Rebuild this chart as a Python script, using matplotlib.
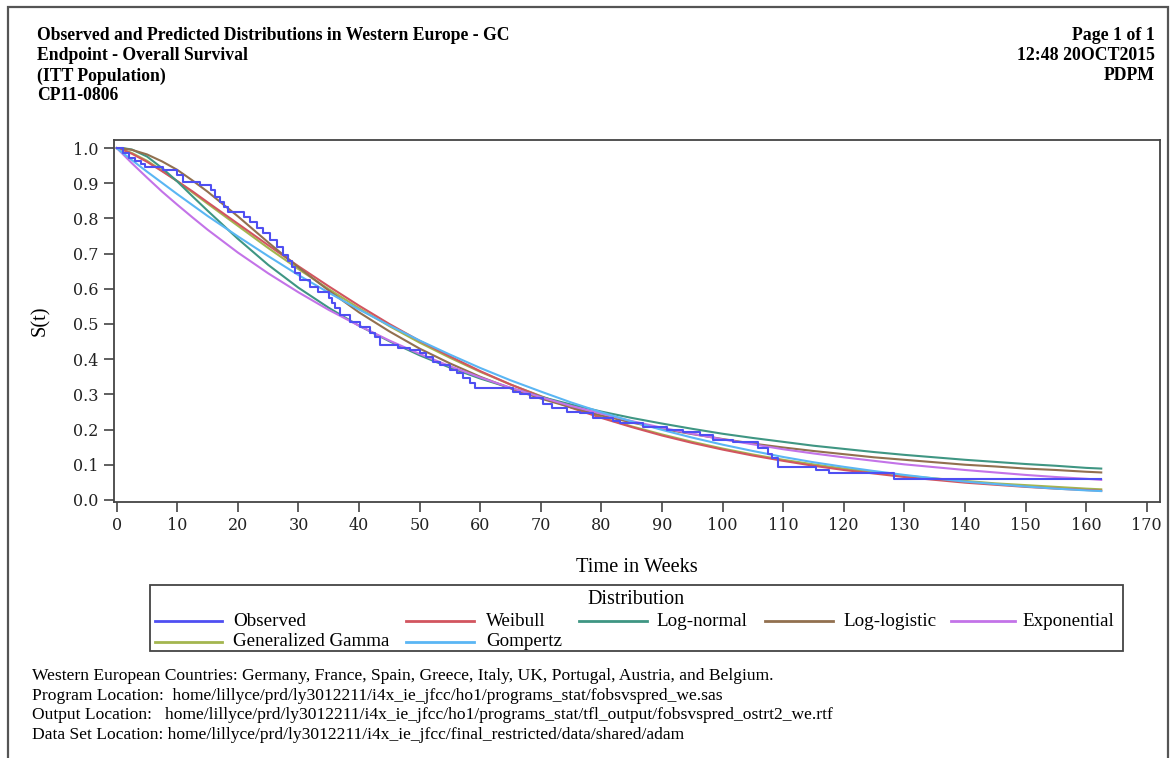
import matplotlib
matplotlib.use("Agg")
import matplotlib.pyplot as plt
from matplotlib.lines import Line2D
from matplotlib.patches import Rectangle

# ---------------- data ----------------
t_grid = [0, 1, 2.5, 5, 7.5, 10, 12.5, 15, 20, 25, 30, 35, 40, 45, 50, 55, 60, 65, 70, 75,
          80, 85, 90, 95, 100, 105, 110, 115, 120, 125, 130, 135, 140, 145, 150, 155, 160, 162.5]

weibull = [1.0, 0.995, 0.984, 0.961, 0.934, 0.906, 0.877, 0.846, 0.785, 0.724, 0.664, 0.607,
           0.552, 0.500, 0.452, 0.408, 0.366, 0.328, 0.294, 0.262, 0.233, 0.207, 0.183, 0.162,
           0.143, 0.126, 0.111, 0.097, 0.085, 0.075, 0.065, 0.057, 0.049, 0.043, 0.037, 0.032,
           0.028, 0.026]
lognormal = [1.0, 1.0, 0.996, 0.976, 0.943, 0.905, 0.863, 0.822, 0.742, 0.668, 0.603, 0.546,
             0.495, 0.451, 0.411, 0.376, 0.345, 0.318, 0.293, 0.271, 0.251, 0.233, 0.217, 0.202,
             0.188, 0.176, 0.165, 0.154, 0.145, 0.136, 0.128, 0.121, 0.114, 0.108, 0.102, 0.097,
             0.091, 0.089]
loglogistic = [1.0, 0.999, 0.995, 0.982, 0.962, 0.938, 0.908, 0.876, 0.806, 0.732, 0.661,
               0.595, 0.533, 0.479, 0.430, 0.388, 0.350, 0.317, 0.288, 0.263, 0.240, 0.220,
               0.202, 0.187, 0.173, 0.160, 0.149, 0.139, 0.130, 0.121, 0.114, 0.107, 0.100,
               0.095, 0.089, 0.085, 0.080, 0.078]
exponential = [1.0, 0.983, 0.957, 0.916, 0.876, 0.839, 0.803, 0.768, 0.703, 0.644, 0.590,
               0.540, 0.495, 0.453, 0.415, 0.380, 0.348, 0.319, 0.292, 0.267, 0.245, 0.224,
               0.205, 0.188, 0.172, 0.158, 0.144, 0.132, 0.121, 0.111, 0.101, 0.093, 0.085,
               0.078, 0.071, 0.065, 0.060, 0.057]
gengamma = [1.0, 0.996, 0.986, 0.964, 0.936, 0.906, 0.874, 0.842, 0.779, 0.716, 0.656, 0.599,
            0.545, 0.494, 0.447, 0.404, 0.364, 0.328, 0.295, 0.264, 0.235, 0.209, 0.186, 0.165,
            0.146, 0.129, 0.114, 0.101, 0.089, 0.079, 0.069, 0.061, 0.054, 0.047, 0.042, 0.037,
            0.032, 0.030]
gompertz = [1.0, 0.986, 0.966, 0.933, 0.901, 0.869, 0.838, 0.807, 0.749, 0.693, 0.639, 0.589,
            0.541, 0.496, 0.453, 0.413, 0.375, 0.340, 0.308, 0.277, 0.249, 0.223, 0.199, 0.177,
            0.157, 0.139, 0.122, 0.107, 0.094, 0.082, 0.071, 0.061, 0.052, 0.045, 0.038, 0.032,
            0.027, 0.025]

obs_t = [0, 1.0, 2.0, 3.0, 4.0, 4.7, 7.7, 10.0, 11.0, 13.7, 15.5, 16.3, 17.0, 17.7, 18.3,
         21.0, 22.0, 23.1, 24.2, 25.3, 26.4, 27.5, 28.3, 28.9, 29.4, 30.2, 31.9, 33.2,
         35.0, 35.5, 36.0, 36.8, 38.5, 40.1, 41.8, 42.6, 43.4, 46.5, 48.4, 50.0, 51.1,
         52.2, 53.3, 55.0, 56.1, 57.2, 58.3, 59.1, 65.4, 66.5, 68.2, 70.4, 71.8, 74.3,
         76.5, 78.6, 81.9, 83.1, 86.9, 90.8, 93.5, 96.3, 98.4, 101.7, 105.8, 107.5,
         108.1, 109.2, 115.5, 117.5, 128.3, 162.5]
obs_s = [1.0, 0.985, 0.972, 0.962, 0.955, 0.947, 0.938, 0.923, 0.904, 0.895, 0.880, 0.862,
         0.848, 0.833, 0.819, 0.805, 0.790, 0.772, 0.758, 0.739, 0.720, 0.696, 0.680, 0.663,
         0.644, 0.625, 0.606, 0.590, 0.575, 0.559, 0.545, 0.525, 0.507, 0.492, 0.473, 0.462,
         0.440, 0.431, 0.425, 0.417, 0.407, 0.393, 0.383, 0.369, 0.360, 0.346, 0.331, 0.317,
         0.306, 0.300, 0.289, 0.272, 0.262, 0.251, 0.246, 0.232, 0.223, 0.218, 0.208, 0.199,
         0.192, 0.185, 0.170, 0.164, 0.147, 0.130, 0.118, 0.094, 0.085, 0.076, 0.060, 0.060]

series_names = ["Observed", "Weibull", "Log-normal", "Log-logistic", "Exponential",
                "Generalized Gamma", "Gompertz"]
colors = {"Observed": "#4f4ff2", "Weibull": "#d2555f", "Log-normal": "#3f9683",
          "Log-logistic": "#92704f", "Exponential": "#c373e8",
          "Generalized Gamma": "#a3b64f", "Gompertz": "#5ab6f4"}

x_ticks = list(range(0, 171, 10))
y_ticks = [0.0, 0.1, 0.2, 0.3, 0.4, 0.5, 0.6, 0.7, 0.8, 0.9, 1.0]

header_left = ["Observed and Predicted Distributions in Western Europe - GC",
               "Endpoint - Overall Survival", "(ITT Population)", "CP11-0806"]
header_right = ["Page 1 of 1", "12:48 20OCT2015", "PDPM"]
footnotes = [
    "Western European Countries: Germany, France, Spain, Greece, Italy, UK, Portugal, Austria, and Belgium.",
    "Program Location:  home/lillyce/prd/ly3012211/i4x_ie_jfcc/ho1/programs_stat/fobsvspred_we.sas",
    "Output Location:   home/lillyce/prd/ly3012211/i4x_ie_jfcc/ho1/programs_stat/tfl_output/fobsvspred_ostrt2_we.rtf",
    "Data Set Location: home/lillyce/prd/ly3012211/i4x_ie_jfcc/final_restricted/data/shared/adam",
]

# ---------------- figure ----------------
W, H = 1171, 758
fig = plt.figure(figsize=(W / 100, H / 100), dpi=100)
serif = ["Liberation Serif", "DejaVu Serif"]

def fx(px):
    return px / W

def fy(py):
    return 1 - py / H

# page border
fig.add_artist(Rectangle((fx(8), -0.05), fx(1160), fy(7) + 0.05, transform=fig.transFigure,
                         fill=False, lw=1.6, ec="#555555"))

# header
for i, s in enumerate(header_left):
    fig.text(fx(37), fy(36 + 20 * i), s, fontsize=12.7, fontweight="bold",
             family=serif, va="center", ha="left")
for i, s in enumerate(header_right):
    fig.text(fx(1155), fy(36 + 20 * i), s, fontsize=12.8, fontweight="bold",
             family=serif, va="center", ha="right")

ax = fig.add_axes([fx(114), fy(502), fx(1160 - 114), (502 - 140) / H])

lw = 1.5
ax.plot(t_grid, gengamma, color=colors["Generalized Gamma"], lw=lw)
ax.plot(t_grid, weibull, color=colors["Weibull"], lw=lw)
ax.plot(t_grid, lognormal, color=colors["Log-normal"], lw=lw)
ax.plot(t_grid, loglogistic, color=colors["Log-logistic"], lw=lw)
ax.plot(t_grid, exponential, color=colors["Exponential"], lw=lw)
ax.plot(t_grid, gompertz, color=colors["Gompertz"], lw=lw)
ax.plot(obs_t, obs_s, color=colors["Observed"], lw=lw, drawstyle="steps-post")

ax.set_xlim(-0.45, 172.2)
ax.set_ylim(-0.006, 1.023)
ax.set_xticks(x_ticks)
ax.set_yticks(y_ticks)
ax.set_yticklabels([f"{v:.1f}" for v in y_ticks])
for sp in ax.spines.values():
    sp.set_color("#444444")
    sp.set_linewidth(1.3)
ax.tick_params(direction="out", length=7, width=1.2, color="#444444",
               labelsize=11.5, labelcolor="#222222", pad=4)
for lab in ax.get_xticklabels() + ax.get_yticklabels():
    lab.set_family(["DejaVu Serif"])

ax.set_xlabel("Time in Weeks", fontsize=14.7, family=serif, labelpad=17)
ax.set_ylabel("S(t)", fontsize=14.7, family=serif, labelpad=17)

# legend box (manual placement to match reference)
fig.add_artist(Rectangle((fx(150), fy(651)), fx(1123 - 150), (651 - 585) / H,
                         transform=fig.transFigure, fill=False, lw=1.3, ec="#444444"))
fig.text(fx(636), fy(599), "Distribution", fontsize=14.5, family=serif, ha="center", va="center")
leg_pos = {
    "Observed": (155, 222, 233, 621),
    "Weibull": (406, 474, 486, 621),
    "Log-normal": (579, 647, 656, 621),
    "Log-logistic": (765, 833, 843, 621),
    "Exponential": (951, 1015, 1022, 621),
    "Generalized Gamma": (155, 222, 233, 642),
    "Gompertz": (406, 474, 486, 642),
}
for name in series_names:
    x0, x1, xt, yy = leg_pos[name]
    fig.add_artist(Line2D([fx(x0), fx(x1)], [fy(yy), fy(yy)], transform=fig.transFigure,
                          color=colors[name], lw=2.0))
    fig.text(fx(xt), fy(yy), name, fontsize=13.7, family=serif, ha="left", va="center")

for i, s in enumerate(footnotes):
    fig.text(fx(32), fy(676 + 19.7 * i), s, fontsize=12.6, family=serif, ha="left", va="center")

fig.savefig("out.png", dpi=100)
